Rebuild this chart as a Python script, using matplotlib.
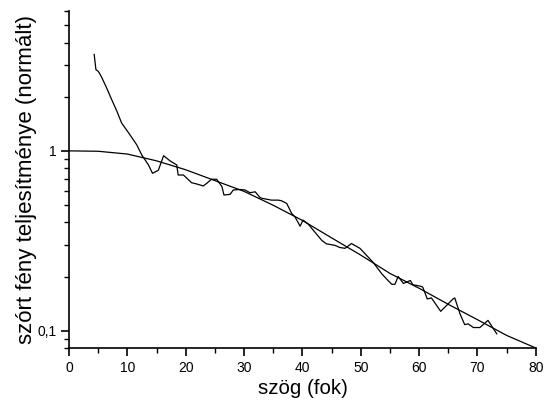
import matplotlib
matplotlib.use("Agg")
import matplotlib.pyplot as plt
from matplotlib.ticker import LogLocator, FixedLocator, FixedFormatter, NullFormatter, MultipleLocator

plt.rcParams['font.family'] = ['Liberation Sans', 'DejaVu Sans']

# smooth fitted curve (read every 5 degrees)
fit_x = [0, 5, 10, 15, 20, 25, 30, 35, 40, 45, 50, 55, 60, 65, 70, 75, 80]
fit_y = [1.0, 0.995, 0.96, 0.88, 0.785, 0.683, 0.595, 0.498, 0.41, 0.328,
         0.263, 0.208, 0.172, 0.14, 0.115, 0.094, 0.08]

# measured curve
meas_x = [4.3, 4.6, 5.0, 5.5, 5.9, 6.3, 6.7, 7.3, 8.2, 9.0, 10.2, 11.6, 12.45,
          13.6, 14.3, 15.3, 16.2, 17.3, 18.45, 18.7, 19.6, 21.0, 21.9, 23.0,
          23.6, 24.4, 25.3, 26.2, 26.55, 27.6, 28.15, 29.3, 30.15, 31.0, 31.9,
          32.7, 33.0, 34.7, 35.85, 36.4, 37.3, 38.15, 38.7, 39.6, 40.1, 41.0,
          42.1, 43.3, 44.1, 45.6, 46.4, 47.3, 48.4, 49.85, 52.1, 53.6, 54.4,
          55.3, 55.85, 56.4, 57.3, 58.5, 58.9, 60.1, 60.6, 61.4, 62.1, 63.7,
          64.7, 65.8, 66.1, 67.0, 67.8, 68.4, 69.3, 70.4, 71.8, 73.3]
meas_y = [3.44, 2.83, 2.77, 2.60, 2.44, 2.29, 2.14, 1.93, 1.66, 1.43, 1.26, 1.08,
          0.95, 0.835, 0.75, 0.78, 0.94, 0.88, 0.835, 0.734, 0.734, 0.665, 0.654,
          0.638, 0.66, 0.695, 0.695, 0.632, 0.568, 0.573, 0.606, 0.61, 0.606,
          0.585, 0.592, 0.551, 0.545, 0.532, 0.532, 0.528, 0.51, 0.449, 0.43,
          0.381, 0.412, 0.391, 0.354, 0.318, 0.304, 0.298, 0.29, 0.287, 0.305,
          0.287, 0.24, 0.207, 0.194, 0.181, 0.181, 0.2, 0.183, 0.19, 0.18, 0.177,
          0.175, 0.15, 0.152, 0.128, 0.138, 0.15, 0.152, 0.124, 0.108, 0.109,
          0.104, 0.104, 0.114, 0.096]

y_ticks = [0.1, 1]
y_labels = ['0,1', '1']

fig = plt.figure(figsize=(5.44, 4.08), dpi=100)
ax = fig.add_axes([0.127, 0.147, 0.858, 0.826])

ax.plot(fit_x, fit_y, color='black', lw=0.9)
ax.plot(meas_x, meas_y, color='black', lw=0.9)

ax.set_yscale('log')
ax.set_xlim(0, 80)
ax.set_ylim(0.08, 6)

ax.yaxis.set_major_locator(FixedLocator(y_ticks))
ax.yaxis.set_major_formatter(FixedFormatter(y_labels))
ax.yaxis.set_minor_locator(LogLocator(base=10, subs=range(2, 10)))
ax.yaxis.set_minor_formatter(NullFormatter())
ax.xaxis.set_major_locator(MultipleLocator(10))
ax.xaxis.set_minor_locator(MultipleLocator(5))

for s in ['top', 'right']:
    ax.spines[s].set_visible(False)
ax.spines['left'].set_linewidth(1.2)
ax.spines['bottom'].set_linewidth(1.2)

ax.tick_params(which='major', direction='out', length=6, width=1.2, labelsize=10, pad=3)
ax.tick_params(which='minor', direction='out', length=3.5, width=1.0)

ax.set_xlabel('szög (fok)', fontsize=14.8, labelpad=3)
ax.set_ylabel('szórt fény teljesítménye (normált)', fontsize=16, labelpad=0)

fig.savefig('out.png', dpi=100)
